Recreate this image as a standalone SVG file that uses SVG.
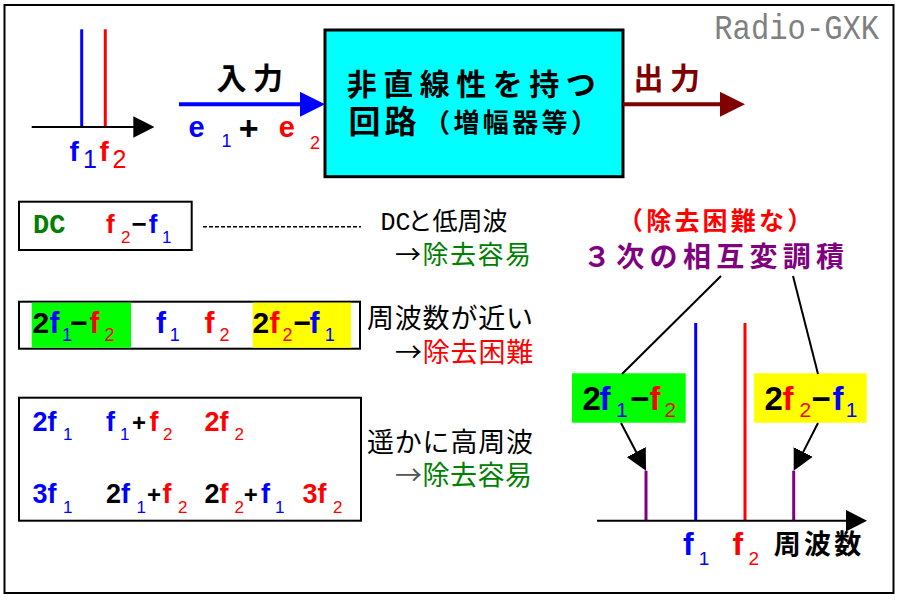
<svg xmlns="http://www.w3.org/2000/svg" width="900" height="600" viewBox="0 0 900 600">
<defs>
<style>
.L{font-family:"Liberation Sans",Arial,sans-serif;font-weight:bold}
.M{font-family:"Liberation Mono","DejaVu Sans Mono",monospace}
.J{font-family:"Noto Sans CJK JP","Noto Sans CJK SC",sans-serif}
.b{fill:#0000FF}.r{fill:#FF0000}.k{fill:#000000}.g{fill:#008000}.p{fill:#800080}.dr{fill:#800000}
.box{fill:#ffffff;stroke:#000000;stroke-width:2}
.ln{stroke:#000000;stroke-width:2;fill:none}
</style>
<marker id="ahK" markerUnits="userSpaceOnUse" markerWidth="21" markerHeight="22" refX="3" refY="10.75" orient="auto" viewBox="0 0 21 21.5"><path d="M0,0 L21,10.75 L0,21.5 z" fill="#000000"/></marker>
<marker id="ahB" markerUnits="userSpaceOnUse" markerWidth="25" markerHeight="25" refX="3" refY="12.5" orient="auto" viewBox="0 0 25 25"><path d="M0,0 L25,12.5 L0,25 z" fill="#0000FF"/></marker>
<marker id="ahR" markerUnits="userSpaceOnUse" markerWidth="25" markerHeight="25" refX="3" refY="12.5" orient="auto" viewBox="0 0 25 25"><path d="M0,0 L25,12.5 L0,25 z" fill="#800000"/></marker>
</defs>
<rect x="0" y="0" width="900" height="600" fill="#ffffff"/>
<rect id="frame" x="4.5" y="5" width="889" height="588" fill="none" stroke="#000000" stroke-width="2"/>

<g id="watermark">
<text class="M" x="0" y="0" font-size="35" fill="#808080" transform="translate(714.3,39.3) scale(0.8724,1)">Radio-GXK</text>
</g>

<g id="input-spectrum">
<line x1="81.7" y1="29.3" x2="81.7" y2="127" stroke="#0000FF" stroke-width="3"/>
<line x1="105.3" y1="29.3" x2="105.3" y2="127" stroke="#FF0000" stroke-width="3"/>
<text class="L" font-size="28"><tspan x="69.5" y="160.7" class="b">f</tspan><tspan x="83" y="168.3" font-size="25" font-weight="normal" class="b">1</tspan><tspan x="99.5" y="160.7" class="r">f</tspan><tspan x="112.5" y="168.3" font-size="25" font-weight="normal" class="r">2</tspan></text>
</g>

<g id="input-label">
<text class="J k" font-weight="bold" font-size="30" letter-spacing="6.5" x="216.5" y="88.7">入力</text>
<text class="L"><tspan x="188.5" y="136.5" font-size="29" class="b">e</tspan><tspan x="221.5" y="147.3" font-size="18" font-weight="normal" class="b">1</tspan><tspan x="238.8" y="139.5" font-size="34" class="k">+</tspan><tspan x="278.8" y="136.5" font-size="29" class="r">e</tspan><tspan x="310" y="149" font-size="18" font-weight="normal" class="r">2</tspan></text>
</g>

<g id="nonlinear-circuit">
<rect x="325" y="30" width="298" height="146.7" fill="#00FFFF" stroke="#000000" stroke-width="3"/>
<text class="J k" font-weight="bold" font-size="30" letter-spacing="6.5" x="346.8" y="94.7">非直線性を持つ</text>
<text class="J k" font-weight="bold" font-size="32" letter-spacing="4" x="348.5" y="133">回路</text>
<text class="J k" font-weight="bold" font-size="26" letter-spacing="3.4" x="424" y="131.5">（増幅器等）</text>
</g>

<g id="output-label">
<text class="J dr" font-weight="bold" font-size="30" letter-spacing="6.5" x="633.5" y="88.7">出力</text>
</g>

<g id="box-low">
<rect class="box" x="19" y="201.7" width="172.7" height="48.3"/>
<text class="M g" x="33" y="233.3" font-weight="bold" font-size="27">DC</text>
<text class="L" font-size="26"><tspan x="106" y="233.3" class="r">f</tspan><tspan x="121" y="243.3" font-size="17" font-weight="normal" class="r">2</tspan><tspan x="131.4" y="233.3" class="k">−</tspan><tspan x="148.7" y="233.3" class="b">f</tspan><tspan x="162.1" y="243.3" font-size="17" font-weight="normal" class="b">1</tspan></text>
</g>

<g id="box-near">
<rect class="box" x="19" y="301.7" width="341" height="47"/>
<rect x="31.7" y="302.7" width="99.3" height="45" fill="#00FF00"/>
<rect x="252.7" y="302.7" width="98.3" height="45" fill="#FFFF00"/>
<text class="L" font-size="30"><tspan x="32.5" y="333.3" class="k">2</tspan><tspan x="49.5" y="333.3" class="b">f</tspan><tspan x="62" y="340.7" font-size="18" font-weight="normal" class="b">1</tspan><tspan x="70.2" y="333.3" class="k">−</tspan><tspan x="89.5" y="333.3" class="r">f</tspan><tspan x="104.5" y="340.7" font-size="18" font-weight="normal" class="r">2</tspan></text>
<text class="L" font-size="30"><tspan x="156" y="333.3" class="b">f</tspan><tspan x="169.7" y="340.7" font-size="18" font-weight="normal" class="b">1</tspan><tspan x="204.5" y="333.3" class="r">f</tspan><tspan x="219.5" y="340.7" font-size="18" font-weight="normal" class="r">2</tspan></text>
<text class="L" font-size="30"><tspan x="252.5" y="333.3" class="k">2</tspan><tspan x="269.5" y="333.3" class="r">f</tspan><tspan x="282.5" y="340.7" font-size="18" font-weight="normal" class="r">2</tspan><tspan x="293.5" y="333.3" class="k">−</tspan><tspan x="309.5" y="333.3" class="b">f</tspan><tspan x="324.7" y="340.7" font-size="18" font-weight="normal" class="b">1</tspan></text>
</g>

<g id="box-high">
<rect class="box" x="19" y="397.7" width="342" height="123"/>
<text class="L" font-size="27"><tspan x="32.5" y="431" class="b">2</tspan><tspan x="47.5" y="431" class="b">f</tspan><tspan x="63" y="440" font-size="17" font-weight="normal" class="b">1</tspan></text>
<text class="L" font-size="27"><tspan x="106" y="431" class="b">f</tspan><tspan x="120" y="440" font-size="17" font-weight="normal" class="b">1</tspan><tspan x="132" y="431" font-size="24" class="k">+</tspan><tspan x="149.5" y="431" class="r">f</tspan><tspan x="163" y="440" font-size="17" font-weight="normal" class="r">2</tspan></text>
<text class="L" font-size="27"><tspan x="204.5" y="431" class="r">2</tspan><tspan x="219.5" y="431" class="r">f</tspan><tspan x="234.5" y="440" font-size="17" font-weight="normal" class="r">2</tspan></text>
<text class="L" font-size="27"><tspan x="32.5" y="503.3" class="b">3</tspan><tspan x="47.5" y="503.3" class="b">f</tspan><tspan x="63" y="513.3" font-size="17" font-weight="normal" class="b">1</tspan></text>
<text class="L" font-size="27"><tspan x="106" y="503.3" class="k">2</tspan><tspan x="121" y="503.3" class="b">f</tspan><tspan x="136.5" y="513.3" font-size="17" font-weight="normal" class="b">1</tspan><tspan x="147" y="503.3" font-size="24" class="k">+</tspan><tspan x="162.5" y="503.3" class="r">f</tspan><tspan x="178" y="513.3" font-size="17" font-weight="normal" class="r">2</tspan></text>
<text class="L" font-size="27"><tspan x="204.5" y="503.3" class="k">2</tspan><tspan x="219.5" y="503.3" class="r">f</tspan><tspan x="234.5" y="513.3" font-size="17" font-weight="normal" class="r">2</tspan><tspan x="243.8" y="503.3" font-size="24" class="k">+</tspan><tspan x="261" y="503.3" class="b">f</tspan><tspan x="275" y="513.3" font-size="17" font-weight="normal" class="b">1</tspan></text>
<text class="L" font-size="27"><tspan x="302.5" y="503.3" class="r">3</tspan><tspan x="317.5" y="503.3" class="r">f</tspan><tspan x="333" y="513.3" font-size="17" font-weight="normal" class="r">2</tspan></text>
</g>

<g id="notes">
<text class="J k" font-size="25" y="230"><tspan x="380.5" font-family="Liberation Mono">DC</tspan><tspan x="407.5">と低周波</tspan></text>
<text class="J" font-size="26" letter-spacing="1.5" x="395" y="263.5"><tspan class="k">→</tspan><tspan class="g">除去容易</tspan></text>
<text class="J k" font-size="27" letter-spacing="0.8" x="367" y="328">周波数が近い</text>
<text class="J" font-size="27" letter-spacing="0.8" x="395" y="361.5"><tspan class="k">→</tspan><tspan class="r">除去困難</tspan></text>
<text class="J k" font-size="27" letter-spacing="0.8" x="367" y="451.5">遥かに高周波</text>
<text class="J" font-size="27" letter-spacing="0.5" x="395" y="485"><tspan fill="#555555">→</tspan><tspan class="g">除去容易</tspan></text>
</g>

<g id="imd-title">
<text class="J r" font-weight="bold" font-size="25" letter-spacing="3.2" x="618" y="230">（除去困難な）</text>
<text class="J p" font-weight="bold" font-size="28" letter-spacing="5.3" x="583" y="267">３次の相互変調積</text>
</g>

<g id="label-2f1-f2">
<rect x="572" y="373.3" width="113.7" height="49.4" fill="#00FF00"/>
<text class="L" font-size="33"><tspan x="582.5" y="410" class="k">2</tspan><tspan x="599.5" y="410" class="b">f</tspan><tspan x="616" y="417.3" font-size="21" font-weight="normal" class="b">1</tspan><tspan x="630.3" y="410" class="k">−</tspan><tspan x="649.5" y="410" class="r">f</tspan><tspan x="664.5" y="417.3" font-size="21" font-weight="normal" class="r">2</tspan></text>
</g>

<g id="label-2f2-f1">
<rect x="754" y="373.3" width="112.7" height="49.4" fill="#FFFF00"/>
<text class="L" font-size="33"><tspan x="764.5" y="410" class="k">2</tspan><tspan x="782.5" y="410" class="r">f</tspan><tspan x="799.5" y="417.3" font-size="21" font-weight="normal" class="r">2</tspan><tspan x="811.5" y="410" class="k">−</tspan><tspan x="832.5" y="410" class="b">f</tspan><tspan x="845.7" y="417.3" font-size="21" font-weight="normal" class="b">1</tspan></text>
</g>

<g id="output-spectrum">
<line x1="695.7" y1="323" x2="695.7" y2="521" stroke="#0000FF" stroke-width="3"/>
<line x1="745" y1="323" x2="745" y2="521" stroke="#FF0000" stroke-width="3"/>
<line x1="646" y1="470.7" x2="646" y2="521" stroke="#800080" stroke-width="3"/>
<line x1="793.7" y1="470.7" x2="793.7" y2="521" stroke="#800080" stroke-width="3"/>
<text class="L"><tspan x="683" y="555" font-size="32" class="b">f</tspan><tspan x="698.7" y="565" font-size="19" font-weight="normal" class="b">1</tspan><tspan x="732.5" y="555" font-size="32" class="r">f</tspan><tspan x="748.5" y="565" font-size="19" font-weight="normal" class="r">2</tspan></text>
<text class="J k" font-weight="bold" font-size="27" letter-spacing="3.3" x="773.7" y="554">周波数</text>
</g>

<g id="connectors">
<line x1="31.7" y1="127" x2="136.3" y2="127" class="ln" marker-end="url(#ahK)"/>
<line x1="179" y1="104.3" x2="303" y2="104.3" stroke="#0000FF" stroke-width="4" marker-end="url(#ahB)"/>
<line x1="623" y1="104.3" x2="723" y2="104.3" stroke="#800000" stroke-width="4" marker-end="url(#ahR)"/>
<line x1="203" y1="226.7" x2="361" y2="226.7" stroke="#000000" stroke-width="1.5" stroke-dasharray="4 2"/>
<line x1="721" y1="276" x2="622" y2="374" class="ln"/>
<line x1="793" y1="276" x2="818" y2="374" class="ln"/>
<line x1="621" y1="423" x2="637.65" y2="454.75" class="ln" marker-end="url(#ahK)"/>
<line x1="818" y1="423" x2="801.87" y2="454.66" class="ln" marker-end="url(#ahK)"/>
<line x1="597" y1="520.7" x2="849" y2="520.7" class="ln" marker-end="url(#ahK)"/>
</g>
</svg>
